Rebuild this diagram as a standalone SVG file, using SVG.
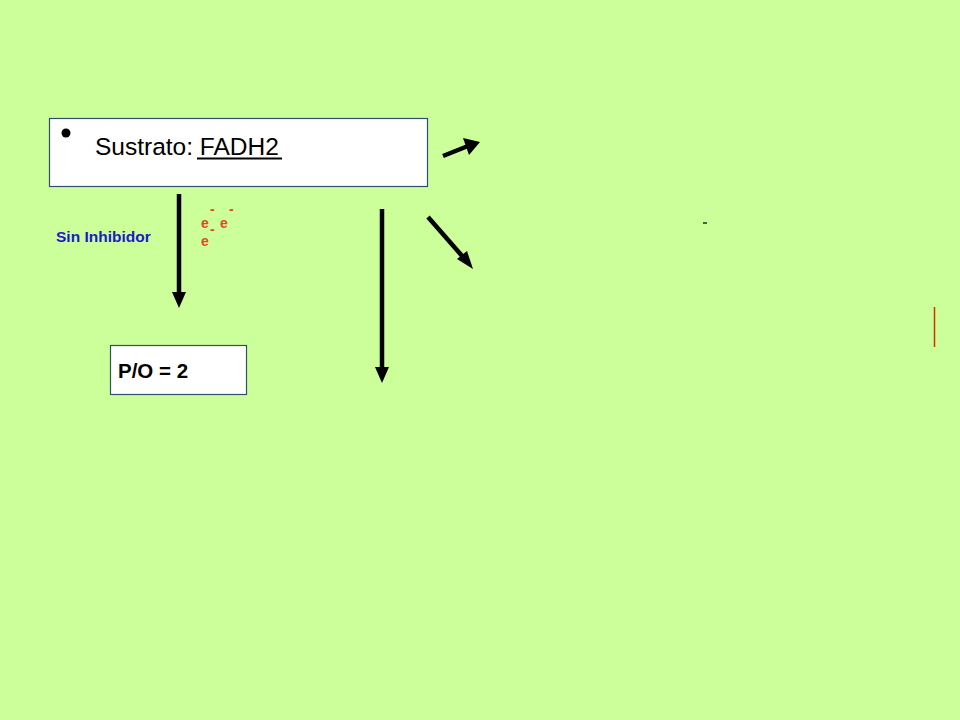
<svg xmlns="http://www.w3.org/2000/svg" width="960" height="720" viewBox="0 0 960 720">
<defs>
<style>
.box{fill:#fff;stroke:#2f4f6f;stroke-width:1.2}
.arr{stroke:#000;stroke-width:4.5;fill:none}
.head{fill:#000}
.el{font-family:"Liberation Sans",Arial,sans-serif;font-weight:bold;font-size:14px;fill:#e8461a}
</style>
</defs>
<rect width="960" height="720" fill="#ccff99"/>
<g id="sustrato">
<rect class="box" x="49.5" y="118.5" width="378" height="68"/>
<circle cx="66" cy="133" r="4.5" fill="#000"/>
<text x="95" y="155" font-family="Liberation Sans,Arial,sans-serif" font-size="24.5" fill="#000">Sustrato:<tspan xml:space="preserve"> FADH2</tspan></text>
<line x1="197" y1="158.5" x2="282" y2="158.5" stroke="#000" stroke-width="2"/>
</g>
<g id="sin-inhibidor">
<text x="56" y="242" font-family="Liberation Sans,Arial,sans-serif" font-weight="bold" font-size="15.5" fill="#1a1acc">Sin Inhibidor</text>
</g>
<g id="electrones">
<text class="el" x="201" y="228">e</text>
<text class="el" x="210" y="214">-</text>
<text class="el" x="220" y="228">e</text>
<text class="el" x="229" y="214">-</text>
<text class="el" x="210" y="234">-</text>
<text class="el" x="201" y="246">e</text>
</g>
<g id="po">
<rect class="box" x="110.5" y="345.5" width="136" height="49"/>
<text x="118" y="378" font-family="Liberation Sans,Arial,sans-serif" font-weight="bold" font-size="20.5" fill="#000">P/O = 2</text>
</g>
<g id="connectors">
<line class="arr" x1="179" y1="194" x2="179" y2="294"/>
<polygon class="head" points="172,292 186,292 179,308"/>
<line class="arr" x1="382" y1="209" x2="382" y2="369"/>
<polygon class="head" points="375,367 389,367 382,383"/>
<line class="arr" x1="443" y1="156" x2="468" y2="146"/>
<polygon class="head" points="463,138 480,142 469,155"/>
<line class="arr" x1="428" y1="217" x2="463" y2="257"/>
<polygon class="head" points="457,259 467,251 473,269"/>
</g>
<g id="marks">
<line x1="703" y1="223" x2="707" y2="223" stroke="#1a331a" stroke-width="1.5"/>
<line x1="934.5" y1="307" x2="934.5" y2="347" stroke="#cc3300" stroke-width="1.5"/>
</g>
</svg>
